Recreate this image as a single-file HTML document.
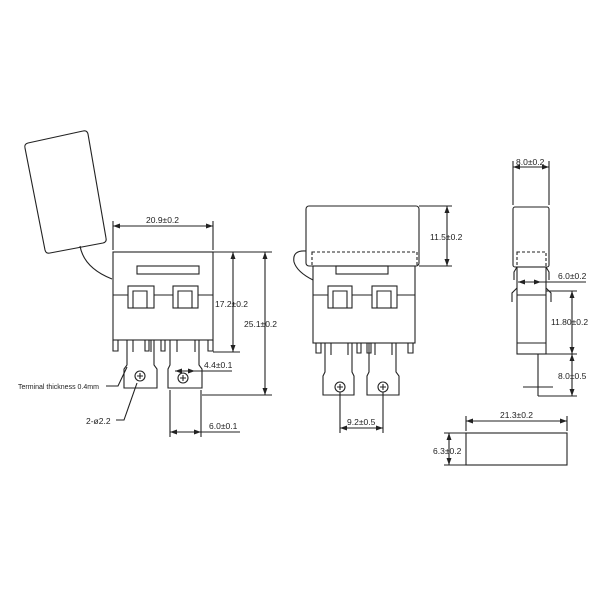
<!DOCTYPE html>
<html><head><style>body{margin:0;background:#fff}svg{display:block}</style></head><body>
<svg width="600" height="600" viewBox="0 0 600 600" xmlns="http://www.w3.org/2000/svg" font-family="Liberation Sans, sans-serif" font-size="8.5" fill="none" stroke="#222" stroke-width="1.1">
<defs><marker id="a" markerWidth="7" markerHeight="5" refX="7" refY="2.5" orient="auto-start-reverse" markerUnits="userSpaceOnUse"><path d="M0,0L7,2.5L0,5z" fill="#222" stroke="none"/></marker></defs>
<!-- LEFT VIEW -->
<path d="M28,143 L83,131 Q87,130 88,134 L106,238 Q107,242 103,243 L50,253 Q46,254 45,250 L25,148 Q24,144 28,143Z"/>
<path d="M80,246 Q84,268 112,279"/>
<rect x="113" y="252" width="100" height="88"/>
<rect x="137" y="266" width="62" height="8"/>
<rect x="128" y="286" width="26" height="22"/><path d="M133,308V291H147V308"/>
<rect x="173" y="286" width="25" height="22"/><path d="M178,308V291H192V308"/>
<path d="M113,295H128M154,295H173M198,295H213"/>
<path d="M113,340V351H118V340M208,340V351H213V340M145,340V351H149V340M161,340V351H165V340"/>
<path d="M127,340V365L124,369V388H157V369L154,365V340M133,340V352M151,340V352"/>
<path d="M170,340V365L168,369V388H202V369L199,365V340M177,340V352M195,340V352"/>
<circle cx="140" cy="376" r="5"/><path d="M137,376h6M140,373v6"/>
<circle cx="183" cy="378" r="5"/><path d="M180,378h6M183,375v6"/>
<path d="M113,250V221M213,250V221"/><line x1="113" y1="226" x2="213" y2="226" marker-start="url(#a)" marker-end="url(#a)"/>
<path d="M213,252H272M213,352H240M202,395H272"/>
<line x1="233" y1="252" x2="233" y2="352" marker-start="url(#a)" marker-end="url(#a)"/>
<line x1="265" y1="252" x2="265" y2="395" marker-start="url(#a)" marker-end="url(#a)"/>
<line x1="175" y1="371" x2="195" y2="371" marker-start="url(#a)" marker-end="url(#a)"/><path d="M195,371H232"/>
<path d="M170,390V437M201,390V437"/><line x1="170" y1="432" x2="201" y2="432" marker-start="url(#a)" marker-end="url(#a)"/><path d="M201,432H240"/>
<path d="M106,386H118L127,367M116,420H124L137,383"/>
<!-- MIDDLE VIEW -->
<rect x="306" y="206" width="113" height="60" rx="3"/>
<rect x="312" y="252" width="105" height="14" stroke-dasharray="3,2"/>
<path d="M306,251Q292,250 294,262Q297,272 313,280"/>
<rect x="313" y="266" width="102" height="77"/>
<rect x="336" y="266" width="52" height="8"/>
<rect x="328" y="286" width="24" height="22"/><path d="M333,308V291H347V308"/>
<rect x="372" y="286" width="25" height="22"/><path d="M377,308V291H391V308"/>
<path d="M313,295H328M352,295H372M397,295H415"/>
<path d="M316,343V353H321V343M408,343V353H413V343M357,343V353H361V343M367,343V353H371V343"/>
<path d="M325,343V372L323,376V395H354V376L352,372V343M331,343V355M348,343V355"/>
<path d="M369,343V372L367,376V395H399V376L396,372V343M375,343V355M392,343V355"/>
<circle cx="340" cy="387" r="5"/><path d="M337,387h6M340,384v6"/>
<circle cx="383" cy="387" r="5"/><path d="M380,387h6M383,384v6"/>
<path d="M340,392V433M383,392V433"/><line x1="340" y1="428" x2="383" y2="428" marker-start="url(#a)" marker-end="url(#a)"/>
<path d="M419,206H452M419,266H452"/><line x1="447" y1="206" x2="447" y2="266" marker-start="url(#a)" marker-end="url(#a)"/>
<!-- RIGHT VIEW -->
<rect x="513" y="207" width="36" height="60" rx="2"/>
<rect x="517" y="252" width="29" height="15" stroke-dasharray="3,2"/>
<rect x="517" y="267" width="29" height="87"/>
<path d="M517,295H546M517,343H546M517,267L514,272V280M546,267L549,272V280"/>
<path d="M517,288L512,293V302M546,288L551,293V302"/>
<path d="M538,354V396M523,387H553"/>
<path d="M513,205V161M549,205V161"/><line x1="513" y1="167" x2="549" y2="167" marker-start="url(#a)" marker-end="url(#a)"/>
<line x1="518" y1="282" x2="541" y2="282" marker-start="url(#a)" marker-end="url(#a)"/><path d="M541,282H586"/>
<path d="M546,291H577M546,354H577M538,396H577"/>
<line x1="572" y1="291" x2="572" y2="354" marker-start="url(#a)" marker-end="url(#a)"/>
<line x1="572" y1="354" x2="572" y2="396" marker-start="url(#a)" marker-end="url(#a)"/>
<rect x="466" y="433" width="101" height="32"/>
<path d="M466,431V416M567,431V416"/><line x1="466" y1="421" x2="567" y2="421" marker-start="url(#a)" marker-end="url(#a)"/>
<path d="M444,433H466M444,465H466"/><line x1="449" y1="433" x2="449" y2="465" marker-start="url(#a)" marker-end="url(#a)"/>
<g fill="#222" stroke="none">
<text x="146" y="223">20.9±0.2</text>
<text x="215" y="307">17.2±0.2</text>
<text x="244" y="327">25.1±0.2</text>
<text x="204" y="368">4.4±0.1</text>
<text x="209" y="429">6.0±0.1</text>
<text x="18" y="389" font-size="7">Terminal thickness 0.4mm</text>
<text x="86" y="424">2-ø2.2</text>
<text x="347" y="425">9.2±0.5</text>
<text x="430" y="240">11.5±0.2</text>
<text x="516" y="165">8.0±0.2</text>
<text x="558" y="279">6.0±0.2</text>
<text x="551" y="325">11.80±0.2</text>
<text x="558" y="379">8.0±0.5</text>
<text x="500" y="418">21.3±0.2</text>
<text x="433" y="454">6.3±0.2</text>
</g>
</svg>
</body></html>
